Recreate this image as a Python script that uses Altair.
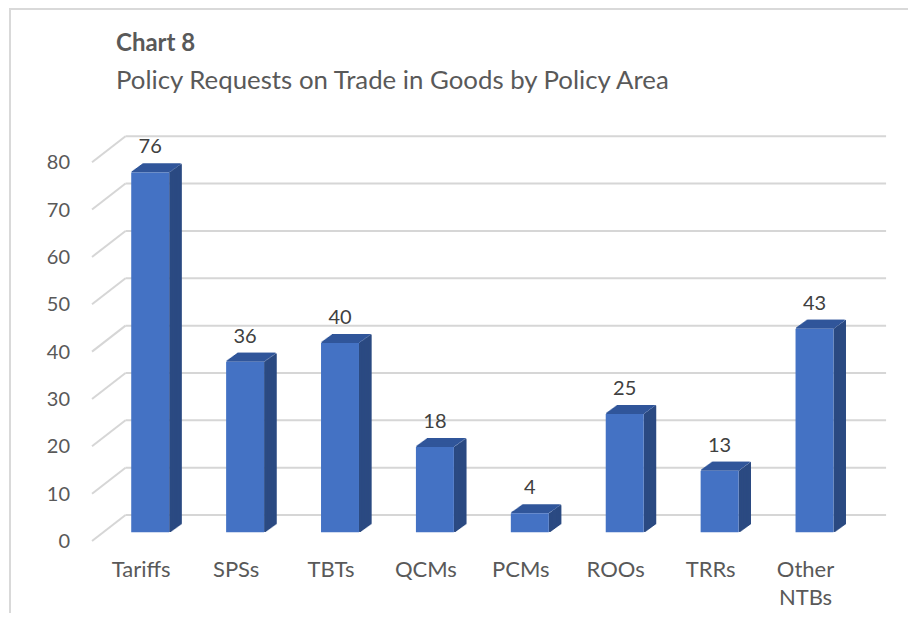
import altair as alt
import pandas as pd

# ---------------- data ----------------
categories = ["Tariffs", "SPSs", "TBTs", "QCMs", "PCMs", "ROOs", "TRRs", "Other NTBs"]
category_labels = ["Tariffs", "SPSs", "TBTs", "QCMs", "PCMs", "ROOs", "TRRs", "Other\nNTBs"]
values = [76, 36, 40, 18, 4, 25, 13, 43]
y_ticks = [0, 10, 20, 30, 40, 50, 60, 70, 80]
title_text = "Chart 8"
subtitle_text = "Policy Requests on Trade in Goods by Policy Area"

# ---------------- styling / pseudo-3D geometry ----------------
W, H = 900, 605
HALF = 0.2          # half bar width (category units)
DEPTH_X = 0.131     # bar depth, x (category units)
DEPTH_Y = 1.9       # bar depth, y (value units)
STEPS = 12          # strips used to draw the slanted faces
WALL_BACK_X = -0.26
WALL_FRONT_X = -0.613
GRID_RIGHT_X = 7.754
BACK_SHIFT = 3.65
FRONT_SHIFT = -1.84
X_DOMAIN = [-1.4984, 7.985]
Y_DOMAIN = [-17.04, 110.73]

FRONT = "#4472C4"
TOP = "#30569A"
SIDE = "#2B4A82"
GRID = "#d6d6d6"
TEXT = "#595959"
DATA_TEXT = "#404040"
FONT = "Lato"

xs = alt.Scale(domain=X_DOMAIN, nice=False, zero=False)
ys = alt.Scale(domain=Y_DOMAIN, nice=False, zero=False)

bars = pd.DataFrame({
    "cat": categories,
    "label": category_labels,
    "value": values,
    "idx": list(range(len(categories))),
})
bars["x1"] = bars["idx"] - HALF
bars["x2"] = bars["idx"] + HALF
bars["base"] = 0

# slanted faces of each bar, drawn as overlapping thin strips derived from the values
side_rows, top_rows = [], []
sx = DEPTH_X / STEPS
sy = DEPTH_Y / STEPS
for i, (c, v) in enumerate(zip(categories, values)):
    for k in range(STEPS):
        t = (k + 0.5) / STEPS
        side_rows.append({
            "cat": c,
            "xa": i + HALF + k * sx, "xb": i + HALF + min(k + 2, STEPS) * sx,
            "ya": t * DEPTH_Y, "yb": v + t * DEPTH_Y,
        })
        top_rows.append({
            "cat": c,
            "xa": i - HALF + t * DEPTH_X, "xb": i + HALF + t * DEPTH_X,
            "ya": v + k * sy, "yb": v + min(k + 2, STEPS) * sy,
        })
side_df = pd.DataFrame(side_rows)
top_df = pd.DataFrame(top_rows)

grid = pd.DataFrame({"tick": y_ticks})
grid["yb"] = grid["tick"] + BACK_SHIFT
grid["yf"] = grid["tick"] + FRONT_SHIFT
grid["xb"] = WALL_BACK_X
grid["xf"] = WALL_FRONT_X
grid["xr"] = GRID_RIGHT_X
grid["lbl"] = grid["tick"].astype(str)


def X(f):
    return alt.X(f, type="quantitative", scale=xs, axis=None)


def Y(f):
    return alt.Y(f, type="quantitative", scale=ys, axis=None)


back_lines = alt.Chart(grid).mark_rule(color=GRID, strokeWidth=2).encode(
    x=X("xb"), x2="xr", y=Y("yb")
)
diag_lines = alt.Chart(grid).mark_rule(color=GRID, strokeWidth=2).encode(
    x=X("xf"), y=Y("yf"), x2="xb", y2="yb"
)
y_labels = alt.Chart(grid).mark_text(
    align="right", baseline="middle", dx=-22, dy=1, fontSize=20, font=FONT, color=TEXT
).encode(x=X("xf"), y=Y("yf"), text="lbl:N")

side = alt.Chart(side_df).mark_rect(fill=SIDE, strokeWidth=0).encode(
    x=X("xa"), x2="xb", y=Y("yb"), y2="ya"
)
top = alt.Chart(top_df).mark_rect(fill=TOP, strokeWidth=0).encode(
    x=X("xa"), x2="xb", y=Y("yb"), y2="ya"
)
front = alt.Chart(bars).mark_rect(fill=FRONT, strokeWidth=0).encode(
    x=X("x1"), x2="x2", y=Y("value"), y2="base"
)
data_labels = alt.Chart(bars).mark_text(
    baseline="middle", dy=-25, fontSize=20, font=FONT, color=DATA_TEXT
).encode(x=X("idx"), y=Y("value"), text="value:Q")
x_labels = alt.Chart(bars).mark_text(
    baseline="alphabetic", dx=-9, dy=45, fontSize=22, font=FONT, color=TEXT,
    lineBreak="\n", lineHeight=28
).encode(x=X("idx"), y=Y("base"), text="label:N")

one = pd.DataFrame({"a": [0]})
border_top = alt.Chart(one).mark_rule(color="#d9d9d9", strokeWidth=2).encode(
    x=alt.value(1), x2=alt.value(W), y=alt.value(1)
)
border_left = alt.Chart(one).mark_rule(color="#d9d9d9", strokeWidth=2).encode(
    x=alt.value(2), y=alt.value(0), y2=alt.value(H)
)
t1 = alt.Chart(one).mark_text(
    align="left", baseline="alphabetic", fontSize=24, fontWeight="bold", font=FONT, color=TEXT, text=title_text
).encode(x=alt.value(108), y=alt.value(43))
t2 = alt.Chart(one).mark_text(
    align="left", baseline="alphabetic", fontSize=25.8, font=FONT, color=TEXT, text=subtitle_text
).encode(x=alt.value(108), y=alt.value(81))

chart = alt.layer(
    border_top, border_left, back_lines, diag_lines, y_labels,
    side, top, front, data_labels, x_labels, t1, t2
).properties(
    width=W, height=H, padding=0, autosize=alt.AutoSizeParams(type="none"),
    background="white"
).configure_view(stroke=None)

chart.save("out.html", embed_options={"renderer": "svg", "actions": False})
